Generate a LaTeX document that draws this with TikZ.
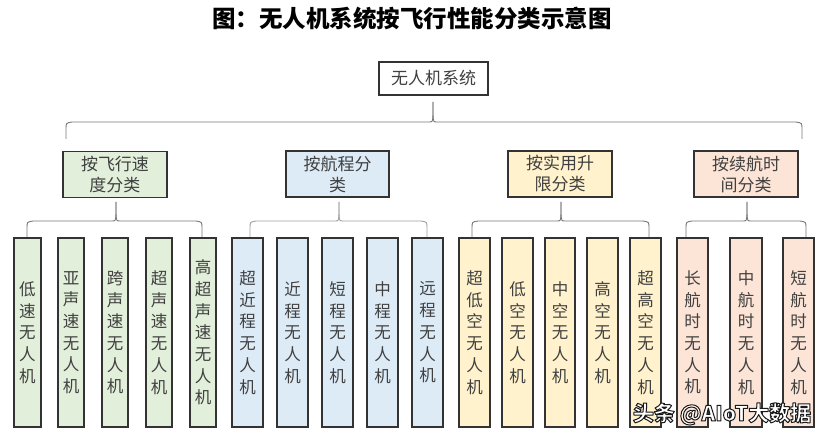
\documentclass[tikz,border=0pt]{standalone}
\usepackage{fontspec}
\newfontfamily\cjk{Noto Sans CJK SC}
\definecolor{gfill}{HTML}{E2EFDA}
\definecolor{bfill}{HTML}{DDEBF7}
\definecolor{yfill}{HTML}{FFF2CC}
\definecolor{pfill}{HTML}{FCE4D6}
\definecolor{edge}{HTML}{333333}
\definecolor{txt}{HTML}{404040}
\definecolor{brc}{HTML}{777777}
\definecolor{brclight}{HTML}{A0A0A0}
\tikzset{
  box/.style={draw=edge, line width=1.1pt, inner sep=0pt, align=center, text=txt},
  leaf/.style={box, minimum height=189pt, font=\cjk\fontsize{16.5}{21.7}\selectfont},
  cat/.style={box, minimum width=104pt, minimum height=46pt, font=\cjk\fontsize{17}{21}\selectfont},
  bracestyle/.style={draw=brc, line width=0.9pt}
}
\newcommand\drawbrace[7]{%
  \draw[bracestyle,#7] (#1,#6) -- (#1,#5+7) .. controls (#1,#5+1) .. (#1+6,#5) -- (#3-4,#5) .. controls (#3-0.5,#5) .. (#3,#5-7) -- (#3,#4);
  \draw[bracestyle,#7] (#3,#4) -- (#3,#5-7) .. controls (#3+0.5,#5) .. (#3+4,#5) -- (#2-6,#5) .. controls (#2,#5+1) .. (#2,#5+7) -- (#2,#6);
}
\newcommand\outlinetext[1]{\special{pdf:bcolor [1] [0.1]}\special{pdf:literal direct 2 Tr 1 w 1 j}#1\special{pdf:literal direct 0 Tr}\special{pdf:ecolor}}
\begin{document}
\begin{tikzpicture}[x=1pt,y=-1pt]
\fill[white] (0,0) rectangle (823,438);
\useasboundingbox (0,0) rectangle (823,438);

\node[font=\cjk\bfseries\fontsize{23.5}{26}\selectfont, text=black] (title) at (412,19) {图：无人机系统按飞行性能分类示意图};

\node[box, fill=white, minimum width=109pt, minimum height=33pt, font=\cjk\fontsize{17}{21}\selectfont] (root) at (433.5,78.5) {无人机系统};

\node[cat, fill=gfill] (cg) at (115,174.5) {按飞行速\\度分类};
\node[cat, fill=bfill, minimum width=103pt] (cb) at (337.5,174) {按航程分\\类};
\node[cat, fill=yfill] (cy) at (560,174) {按实用升\\限分类};
\node[cat, fill=pfill] (cp) at (746,174) {按续航时\\间分类};

% green leaves
\node[leaf, fill=gfill, minimum width=27pt] (g1) at (27.5,332.5) {低\\速\\无\\人\\机};
\node[leaf, fill=gfill, minimum width=26pt] (g2) at (71,332.5) {亚\\声\\速\\无\\人\\机};
\node[leaf, fill=gfill, minimum width=26pt] (g3) at (115,332.5) {跨\\声\\速\\无\\人\\机};
\node[leaf, fill=gfill, minimum width=26pt] (g4) at (159,332.5) {超\\声\\速\\无\\人\\机};
\node[leaf, fill=gfill, minimum width=26pt] (g5) at (203,332.5) {高\\超\\声\\速\\无\\人\\机};
% blue leaves
\node[leaf, fill=bfill, minimum width=31pt] (b1) at (247.5,332.5) {超\\近\\程\\无\\人\\机};
\node[leaf, fill=bfill, minimum width=31pt] (b2) at (292.5,332.5) {近\\程\\无\\人\\机};
\node[leaf, fill=bfill, minimum width=31pt] (b3) at (337.5,332.5) {短\\程\\无\\人\\机};
\node[leaf, fill=bfill, minimum width=31pt] (b4) at (382.5,332.5) {中\\程\\无\\人\\机};
\node[leaf, fill=bfill, minimum width=31pt] (b5) at (427.5,332.5) {远\\程\\无\\人\\机};
% yellow leaves
\node[leaf, fill=yfill, minimum width=31pt] (y1) at (474.5,332.5) {超\\低\\空\\无\\人\\机};
\node[leaf, fill=yfill, minimum width=31pt] (y2) at (517.5,332.5) {低\\空\\无\\人\\机};
\node[leaf, fill=yfill, minimum width=30pt] (y3) at (560,332.5) {中\\空\\无\\人\\机};
\node[leaf, fill=yfill, minimum width=31pt] (y4) at (602.5,332.5) {高\\空\\无\\人\\机};
\node[leaf, fill=yfill, minimum width=31pt] (y5) at (645.5,332.5) {超\\高\\空\\无\\人\\机};
% pink leaves
\node[leaf, fill=pfill, minimum width=31pt] (p1) at (692.5,332.5) {长\\航\\时\\无\\人\\机};
\node[leaf, fill=pfill, minimum width=32pt] (p2) at (746,332.5) {中\\航\\时\\无\\人\\机};
\node[leaf, fill=pfill, minimum width=31pt] (p3) at (798.5,332.5) {短\\航\\时\\无\\人\\机};

% braces
\drawbrace{66}{802}{433}{102}{122}{139}{}
\drawbrace{27}{202}{116}{202}{221}{237}{}
\drawbrace{250}{427}{339}{202}{221}{237}{draw=brclight}
\drawbrace{472}{649}{561}{202}{221}{237}{}
\drawbrace{686}{806}{747}{202}{221}{237}{}

% watermark
\node[font=\cjk\bfseries\fontsize{21}{24}\selectfont, inner sep=0pt] (wm) at (722,414) {\outlinetext{头条 @AIoT大数据}};
\end{tikzpicture}
\end{document}
